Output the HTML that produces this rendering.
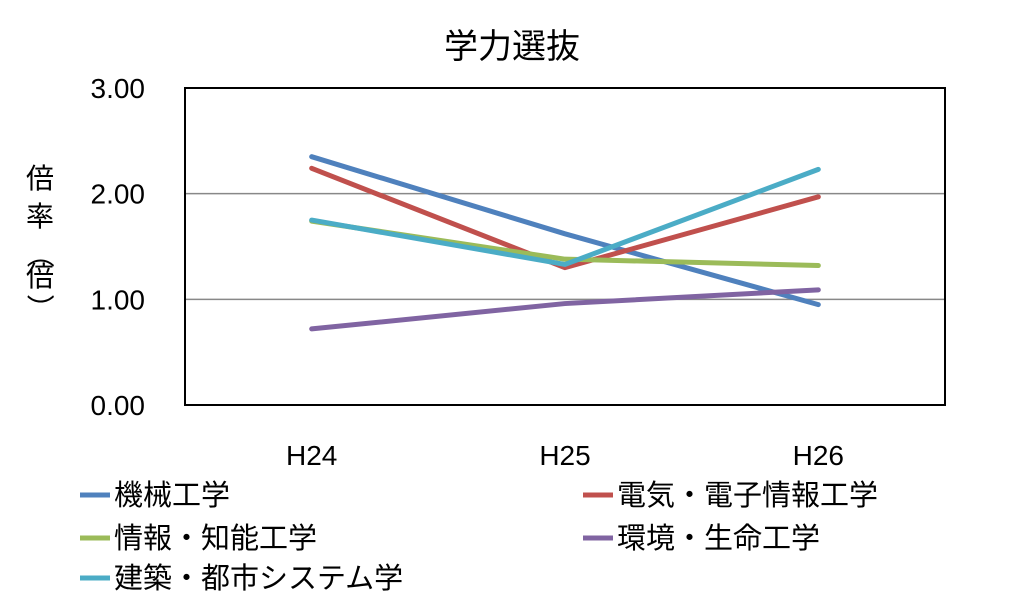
<!DOCTYPE html>
<html><head><meta charset="utf-8"><style>
body{margin:0;background:#fff;}
svg text{font-family:"Liberation Sans","Noto Sans CJK JP",sans-serif;fill:#000;}
</style></head><body>
<svg id="chart" width="1020" height="600" xmlns="http://www.w3.org/2000/svg">
<text x="512" y="58" font-size="34" text-anchor="middle">学力選抜</text>
<g>
<text x="40" y="188" font-size="28" text-anchor="middle">倍</text>
<text x="40" y="226" font-size="28" text-anchor="middle">率</text>
<text x="40" y="264" font-size="28" text-anchor="middle" transform="rotate(90 40 254)">（</text>
<text x="40" y="286" font-size="28" text-anchor="middle">倍</text>
<text x="40" y="318" font-size="28" text-anchor="middle" transform="rotate(90 40 308)">）</text>
</g>
<g id="grid"></g>
<g id="yticks"></g>
<g id="xticks"></g>
<rect x="185" y="88" width="760" height="317" fill="none" stroke="#000" stroke-width="2"/>
<g id="series"></g>
<g id="legend"></g>
</svg>
<script>
const categories=["H24","H25","H26"];
const seriesNames=["機械工学","電気・電子情報工学","情報・知能工学","環境・生命工学","建築・都市システム学"];
const s1=[2.35,1.62,0.95];
const s2=[2.24,1.30,1.97];
const s3=[1.74,1.38,1.32];
const s4=[0.72,0.96,1.09];
const s5=[1.75,1.33,2.23];
const yTicks=["0.00","1.00","2.00","3.00"];
const colors=["#4F81BD","#C0504D","#9BBB59","#8064A2","#4BACC6"];
const NS="http://www.w3.org/2000/svg";
const L=185,R=945,T=88,B=405,ymax=3;
const x=i=>L+(R-L)/categories.length*(i+0.5);
const y=v=>B-(B-T)*v/ymax;
function mk(t,a,p){const e=document.createElementNS(NS,t);for(const k in a)e.setAttribute(k,a[k]);p.appendChild(e);return e;}
const grid=document.getElementById('grid'),yt=document.getElementById('yticks'),xt=document.getElementById('xticks');
yTicks.forEach(t=>{const v=parseFloat(t);
 if(v>0&&v<ymax){const g=mk('line',{x1:L,x2:R,y1:y(v),y2:y(v),stroke:'#888','stroke-width':1.5},grid);
 
 }
 const tx=mk('text',{x:145,y:y(v)+10,'font-size':28,'text-anchor':'end'},yt);tx.textContent=t;
 
 });
categories.forEach((c,i)=>{const tx=mk('text',{x:x(i),y:465,'font-size':28,'text-anchor':'middle'},xt);tx.textContent=c;
 
 });
const data=[s1,s2,s3,s4,s5];
const sg=document.getElementById('series');
data.forEach((d,k)=>{const pl=mk('polyline',{points:d.map((v,i)=>x(i)+','+y(v)).join(' '),fill:'none',stroke:colors[k],'stroke-width':5,'stroke-linecap':'round','stroke-linejoin':'round'},sg);
 
 });
const lg=document.getElementById('legend');
const pos=[[80,495],[583,495],[80,538],[583,538],[80,578]];
seriesNames.forEach((n,k)=>{const g=mk('g',{},lg);
 
 
 mk('line',{x1:pos[k][0],x2:pos[k][0]+30,y1:pos[k][1],y2:pos[k][1],stroke:colors[k],'stroke-width':5},g);
 const t=mk('text',{x:pos[k][0]+34,y:pos[k][1]+10,'font-size':29},g);t.textContent=n;});
</script>
</body></html>
